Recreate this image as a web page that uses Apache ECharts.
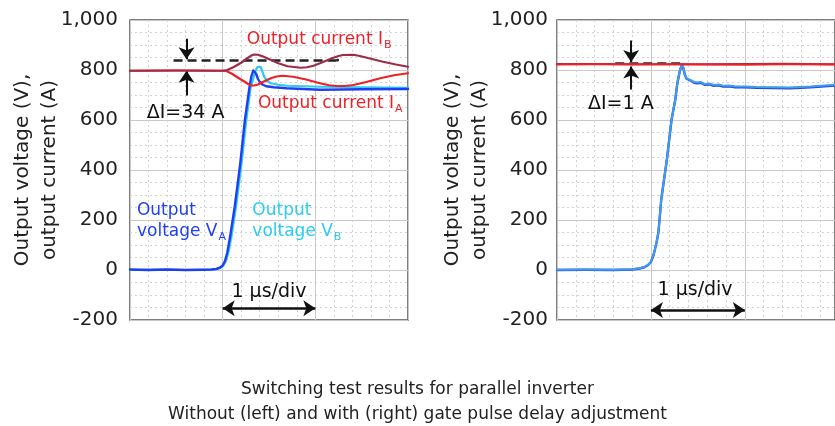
<!DOCTYPE html>
<html>
<head>
<meta charset="utf-8">
<script src="https://cdn.jsdelivr.net/npm/echarts@6/dist/echarts.min.js"></script>
<style>
html,body{margin:0;padding:0;background:#fff;}
#c{width:835px;height:426px;}
</style>
</head>
<body>
<div id="c"></div>
<script>
// ---------- DATA (time in µs, values in V / A) ----------
const yTickValues = [-200, 0, 200, 400, 600, 800, 1000];
const yTickLabels = ['-200', '0', '200', '400', '600', '800', '1,000'];

// Left: without gate pulse delay adjustment
const leftVoltageA = [[0,2],[0.2,0],[0.4,2],[0.6,0],[0.8,1],[0.88,2],[0.93,4],[0.97,9],[1.0,18],[1.025,36],[1.05,70],[1.08,133],[1.13,253],[1.19,427],[1.24,600],[1.29,733],[1.31,775],[1.33,798],[1.345,796],[1.36,786],[1.38,765],[1.40,752],[1.43,742],[1.47,735],[1.55,731],[1.69,727],[2.05,721],[2.5,723],[3.0,724]];
const leftVoltageB = [[0,0],[0.3,2],[0.6,0],[0.88,2],[0.94,5],[0.98,10],[1.01,19],[1.04,40],[1.065,75],[1.095,135],[1.145,255],[1.205,430],[1.255,600],[1.30,725],[1.35,792],[1.375,812],[1.395,820],[1.41,812],[1.43,792],[1.45,772],[1.48,756],[1.52,747],[1.6,741],[1.7,737],[2.05,733],[2.5,731],[3.0,729]];
const leftCurrentA = [[0,797],[0.5,798],[1.0,797],[1.04,796],[1.1,785],[1.15,773],[1.22,757],[1.27,745],[1.31,738],[1.34,738],[1.38,742],[1.44,753],[1.52,767],[1.58,774],[1.65,777],[1.76,773],[1.9,762],[2.05,747],[2.15,739],[2.23,736],[2.32,736],[2.41,740],[2.55,752],[2.70,767],[2.85,779],[3.0,787]];
const leftCurrentB = [[0,797],[0.5,798],[1.0,797],[1.05,800],[1.12,812],[1.20,829],[1.27,848],[1.31,858],[1.34,862],[1.38,861],[1.43,855],[1.48,847],[1.6,827],[1.7,815],[1.77,812],[1.84,809],[1.91,811],[1.98,817],[2.05,827],[2.18,847],[2.25,856],[2.30,860],[2.41,861],[2.48,856],[2.6,845],[2.73,833],[2.87,822],[3.0,813]];

// Right: with gate pulse delay adjustment
const rightVoltageA = [[0,0],[0.3,1],[0.6,0],[0.8,2],[0.88,6],[0.93,11],[0.97,20],[1.0,32],[1.03,62],[1.06,110],[1.08,150],[1.11,282],[1.17,442],[1.22,602],[1.26,682],[1.28,744],[1.31,800],[1.33,820],[1.345,808],[1.36,782],[1.38,765],[1.40,758],[1.43,756],[1.46,749],[1.49,747],[1.53,749],[1.57,741],[1.62,743],[1.67,737],[1.72,739],[1.77,734],[1.83,735],[1.9,731],[2.0,731],[2.13,729],[2.3,728],[2.48,727],[2.7,731],[2.96,738]];
const rightVoltageB = [[0,1],[0.3,2],[0.6,1],[0.8,3],[0.88,7],[0.93,12],[0.97,21],[1.0,33],[1.03,63],[1.06,111],[1.08,151],[1.11,283],[1.17,443],[1.22,603],[1.26,683],[1.28,745],[1.31,801],[1.33,822],[1.345,810],[1.36,784],[1.38,767],[1.40,760],[1.43,758],[1.46,752],[1.49,750],[1.53,752],[1.57,744],[1.62,746],[1.67,740],[1.72,742],[1.77,737],[1.83,738],[1.9,734],[2.0,734],[2.13,732],[2.3,731],[2.48,730],[2.7,734],[2.96,741]];
const rightCurrentA = [[0,822],[0.4,823],[0.8,822],[1.2,823],[1.6,822],[2.0,821],[2.4,823],[2.96,822]];
const rightCurrentB = [[0,824],[0.5,824],[1.0,823],[1.5,823],[2.0,824],[2.4,825],[2.96,823]];

// Annotation texts
const captionLines = ['Switching test results for parallel inverter', 'Without (left) and with (right) gate pulse delay adjustment'];
const yAxisTitle = 'Output voltage (V),\noutput current (A)';
const deltaLeft = 'ΔI=34 A';
const deltaRight = 'ΔI=1 A';
const timeDiv = '1 µs/div';

// ---------- CHART ----------
const FONT = 'DejaVu Sans';
const C_VA = '#1f3ff0', C_VB = '#2ccbf3', C_IA = '#ec2229', C_IB = '#9e2c48';
const C_RVA = '#2446dc', C_RVB = '#3f9eee';

function yLabel(v) { const i = yTickValues.indexOf(v); return i >= 0 ? yTickLabels[i] : ''; }

function makeX(idx, max) {
  return {
    type: 'value', gridIndex: idx, min: 0, max: max, interval: 1,
    axisLabel: {show: false}, axisTick: {show: false}, axisLine: {show: false},
    splitLine: {show: true, lineStyle: {color: '#c9c9c9', width: 1}},
    minorTick: {show: false, splitNumber: 5},
    minorSplitLine: {show: true, lineStyle: {color: '#d2d2d2', width: 1, type: [2, 3]}}
  };
}
function makeY(idx, gap, margin) {
  return {
    type: 'value', gridIndex: idx, min: -200, max: 1000, interval: 200,
    name: yAxisTitle, nameLocation: 'middle', nameRotate: 90, nameGap: gap,
    nameMoveOverlap: false,
    nameTextStyle: {fontFamily: FONT, fontSize: 20, lineHeight: 27, color: '#222'},
    axisLabel: {formatter: yLabel, fontFamily: FONT, fontSize: 20, color: '#222', margin: margin},
    axisTick: {show: false}, axisLine: {show: false},
    splitLine: {show: true, lineStyle: {color: '#c9c9c9', width: 1}},
    minorTick: {show: false, splitNumber: 4},
    minorSplitLine: {show: true, lineStyle: {color: '#d2d2d2', width: 1, type: [2, 3]}}
  };
}
function line(name, idx, data, color, width, z) {
  return {
    name: name, type: 'line', xAxisIndex: idx, yAxisIndex: idx, data: data,
    showSymbol: false, symbol: 'none', smooth: false,
    lineStyle: {color: color, width: width, join: 'round', cap: 'round'}, z: z, animation: false, silent: true
  };
}
const arrowStyle = {color: '#111', width: 2, type: 'solid'};
function marks(list) {
  return {
    silent: true, animation: false, label: {show: false}, symbolSize: [12, 12],
    data: list
  };
}

const leftMarks = marks([
  [{coord: [0.47, 840], symbol: 'none', lineStyle: {color: '#222', width: 2.5, type: [9, 5]}}, {coord: [2.24, 840], symbol: 'circle', symbolSize: 3}],
  [{coord: [0.61, 925], symbol: 'none', lineStyle: arrowStyle}, {coord: [0.61, 843], symbol: 'arrow'}],
  [{coord: [0.61, 698], symbol: 'none', lineStyle: arrowStyle}, {coord: [0.61, 797], symbol: 'arrow'}],
  [{coord: [1, -153], symbol: 'arrow', lineStyle: {color: '#111', width: 2.5, type: 'solid'}}, {coord: [2, -153], symbol: 'arrow'}]
]);
const rightMarks = marks([
  [{coord: [0.62, 829], symbol: 'none', lineStyle: {color: '#222', width: 2.5, type: [9, 5]}}, {coord: [1.33, 829], symbol: 'none'}],
  [{coord: [0.79, 918], symbol: 'none', lineStyle: arrowStyle}, {coord: [0.79, 832], symbol: 'arrow'}],
  [{coord: [0.79, 722], symbol: 'none', lineStyle: arrowStyle}, {coord: [0.79, 814], symbol: 'arrow'}],
  [{coord: [1, -160], symbol: 'arrow', lineStyle: {color: '#111', width: 2.5, type: 'solid'}}, {coord: [2, -160], symbol: 'arrow'}]
]);

const sA = line('Output voltage VA', 0, leftVoltageA, C_VA, 2.4, 4);
const sB = line('Output voltage VB', 0, leftVoltageB, C_VB, 2.2, 3);
const sIA = line('Output current IA', 0, leftCurrentA, C_IA, 2.2, 5);
const sIB = line('Output current IB', 0, leftCurrentB, C_IB, 2.2, 5);
sIA.markLine = leftMarks;
const rA = line('Output voltage VA', 1, rightVoltageA, C_RVA, 2.4, 3);
const rB = line('Output voltage VB', 1, rightVoltageB, C_RVB, 2, 4);
const rIB = line('Output current IB', 1, rightCurrentB, C_IB, 2.2, 5);
const rIA = line('Output current IA', 1, rightCurrentA, C_IA, 2.2, 6);
rIA.markLine = rightMarks;

const option = {
  backgroundColor: '#fff',
  animation: false,
  textStyle: {fontFamily: FONT},
  title: {
    text: captionLines.join('\n'), left: 'center', top: 372,
    textStyle: {fontFamily: FONT, fontSize: 17, lineHeight: 25, fontWeight: 'normal', color: '#222'}
  },
  grid: [
    {left: 130, top: 20, width: 278, height: 300, show: true, borderColor: '#555', borderWidth: 1.5, backgroundColor: 'transparent'},
    {left: 557, top: 20, width: 278, height: 300, show: true, borderColor: '#555', borderWidth: 1.5, backgroundColor: 'transparent'}
  ],
  xAxis: [makeX(0, 3), makeX(1, 2.96)],
  yAxis: [makeY(0, 67, 12), makeY(1, 64, 9)],
  series: [sB, sA, sIA, sIB, rA, rB, rIB, rIA]
};

const chart = echarts.init(document.getElementById('c'), null, {renderer: 'canvas'});
chart.setOption(option);

function px(g, t, v) { return chart.convertToPixel({gridIndex: g}, [t, v]); }
function txt(g, t, v, text, color, size, align, rich) {
  const p = px(g, t, v);
  return {
    type: 'text', x: p[0], y: p[1], silent: true, z: 100,
    style: {
      text: text, fill: color, fontFamily: FONT, fontSize: size,
      align: align || 'left', verticalAlign: 'middle', rich: rich
    }
  };
}
const sub = (c) => ({
  n: {fontFamily: FONT, fontSize: 17, color: c, lineHeight: 21},
  s: {fontFamily: FONT, fontSize: 11, color: c, padding: [11, 0, 0, 1], lineHeight: 21}
});

chart.setOption({
  graphic: [
    txt(0, 1.26, 920, '{n|Output current I}{s|B}', C_IA, 17, 'left', sub(C_IA)),
    txt(0, 1.38, 664, '{n|Output current I}{s|A}', C_IA, 17, 'left', sub(C_IA)),
    txt(0, 0.18, 628, deltaLeft, '#111', 19, 'left'),
    txt(0, 0.075, 196, '{n|Output}\n{n|voltage V}{s|A}', C_VA, 17, 'left', sub(C_VA)),
    txt(0, 1.32, 196, '{n|Output}\n{n|voltage V}{s|B}', C_VB, 17, 'left', sub(C_VB)),
    txt(0, 1.5, -88, timeDiv, '#111', 19, 'center'),
    txt(1, 0.33, 664, deltaRight, '#111', 19, 'left'),
    txt(1, 1.47, -80, timeDiv, '#111', 19, 'center')
  ]
});
</script>
</body>
</html>
